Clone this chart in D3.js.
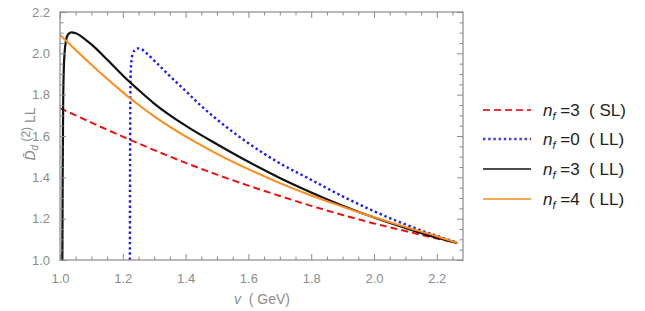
<!DOCTYPE html>
<html>
<head>
<meta charset="utf-8">
<script src="https://cdn.jsdelivr.net/npm/d3@7"></script>
<style>
  html, body { margin: 0; padding: 0; background: #fff; }
  svg { display: block; font-family: "Liberation Sans", Arial, sans-serif; }
</style>
</head>
<body>
<svg id="chart" width="645" height="311"></svg>
<script>
// ---- data ----
const xMajorTicks = [1.0, 1.2, 1.4, 1.6, 1.8, 2.0, 2.2];
const yMajorTicks = [1.0, 1.2, 1.4, 1.6, 1.8, 2.0, 2.2];
const xMinorTicks = [1.05,1.1,1.15,1.25,1.3,1.35,1.45,1.5,1.55,1.65,1.7,1.75,1.85,1.9,1.95,2.05,2.1,2.15,2.25];
const yMinorTicks = [1.05,1.1,1.15,1.25,1.3,1.35,1.45,1.5,1.55,1.65,1.7,1.75,1.85,1.9,1.95,2.05,2.1,2.15];

const vSL3 = [1.0,1.1,1.2,1.3,1.4,1.5,1.6,1.7,1.8,1.9,2.0,2.1,2.2,2.265];
const dSL3 = [1.735,1.665,1.597,1.532,1.470,1.413,1.360,1.310,1.262,1.218,1.177,1.140,1.104,1.082];

const vLL0 = [1.2225,1.2232,1.224,1.2255,1.228,1.232,1.238,1.249,1.262,1.276,1.3,1.35,1.4,1.45,1.5,1.6,1.7,1.8,1.9,2.0,2.1,2.2,2.265];
const dLL0 = [1.0,1.5,1.8,1.92,1.97,2.0,2.015,2.024,2.018,2.0,1.965,1.89,1.818,1.745,1.68,1.565,1.468,1.388,1.308,1.236,1.172,1.117,1.084];

const vLL3 = [1.0075,1.0085,1.010,1.012,1.015,1.019,1.025,1.036,1.05,1.08,1.1,1.15,1.2,1.25,1.3,1.4,1.5,1.6,1.7,1.8,1.9,2.0,2.1,2.2,2.265];
const dLL3 = [1.0,1.4,1.75,1.92,2.01,2.06,2.09,2.101,2.097,2.068,2.043,1.97,1.893,1.823,1.757,1.65,1.56,1.475,1.397,1.327,1.263,1.206,1.155,1.108,1.082];

const vLL4 = [1.0,1.05,1.1,1.15,1.2,1.25,1.3,1.4,1.5,1.6,1.7,1.8,1.9,2.0,2.1,2.2,2.265];
const dLL4 = [2.089,2.016,1.945,1.877,1.811,1.751,1.695,1.598,1.514,1.44,1.372,1.312,1.258,1.207,1.16,1.115,1.083];

const seriesNF = ["3", "0", "3", "4"];
const seriesOrder = ["SL", "LL", "LL", "LL"];

// ---- layout ----
const L = 60, R = 463, T = 12, B = 260;
const svg = d3.select("#chart");
const x = d3.scaleLinear().domain([1.0, 2.2834]).range([L, R]);
const y = d3.scaleLinear().domain([1.0, 2.2]).range([B, T]);

const frameColor = "#8a8a8a";
const labelColor = "#8c8c8c";

svg.append("defs").append("clipPath").attr("id", "clip")
  .append("rect").attr("x", L).attr("y", T).attr("width", R - L).attr("height", B - T);

// ---- curves ----
const series = [
  {v: vSL3, d: dSL3, color: "#ee1111", width: 2, dash: "7,4"},
  {v: vLL0, d: dLL0, color: "#1a1aff", width: 2.4, dash: "2.4,2.8"},
  {v: vLL3, d: dLL3, color: "#111111", width: 2.2, dash: null},
  {v: vLL4, d: dLL4, color: "#ff8c1a", width: 2, dash: null}
];
const line = d3.line().x(p => x(p[0])).y(p => y(p[1])).curve(d3.curveMonotoneX);
const g = svg.append("g").attr("clip-path", "url(#clip)");
series.forEach(s => {
  const pts = s.v.map((v, i) => [v, s.d[i]]);
  g.append("path").datum(pts)
    .attr("d", line)
    .attr("fill", "none")
    .attr("stroke", s.color)
    .attr("stroke-width", s.width)
    .attr("stroke-dasharray", s.dash);
});

// ---- frame & ticks ----
function styleAxis(sel) {
  sel.select(".domain").remove();
  sel.selectAll(".tick line").attr("stroke", frameColor).attr("stroke-width", 1);
  sel.selectAll(".tick text").attr("fill", labelColor).attr("font-size", 13)
     .attr("font-family", "Liberation Sans, Arial, sans-serif");
}
const fmt = d3.format(".1f");
// bottom
svg.append("g").attr("transform", `translate(0,${B})`)
  .call(d3.axisBottom(x).tickValues(xMajorTicks).tickSize(-6).tickPadding(14).tickFormat(fmt)).call(styleAxis);
svg.append("g").attr("transform", `translate(0,${B})`)
  .call(d3.axisBottom(x).tickValues(xMinorTicks).tickSize(-3.5).tickFormat("")).call(styleAxis);
// top
svg.append("g").attr("transform", `translate(0,${T})`)
  .call(d3.axisTop(x).tickValues(xMajorTicks).tickSize(-6).tickFormat("")).call(styleAxis);
svg.append("g").attr("transform", `translate(0,${T})`)
  .call(d3.axisTop(x).tickValues(xMinorTicks).tickSize(-3.5).tickFormat("")).call(styleAxis);
// left
svg.append("g").attr("transform", `translate(${L},0)`)
  .call(d3.axisLeft(y).tickValues(yMajorTicks).tickSize(-6).tickPadding(10).tickFormat(fmt)).call(styleAxis);
svg.append("g").attr("transform", `translate(${L},0)`)
  .call(d3.axisLeft(y).tickValues(yMinorTicks).tickSize(-3.5).tickFormat("")).call(styleAxis);
// right
svg.append("g").attr("transform", `translate(${R},0)`)
  .call(d3.axisRight(y).tickValues(yMajorTicks).tickSize(-6).tickFormat("")).call(styleAxis);
svg.append("g").attr("transform", `translate(${R},0)`)
  .call(d3.axisRight(y).tickValues(yMinorTicks).tickSize(-3.5).tickFormat("")).call(styleAxis);

svg.append("rect").attr("x", L).attr("y", T).attr("width", R - L).attr("height", B - T)
  .attr("fill", "none").attr("stroke", frameColor).attr("stroke-width", 1.2);

// ---- axis labels ----
const xl = svg.append("text").attr("x", 262).attr("y", 304).attr("text-anchor", "middle")
  .attr("fill", labelColor).attr("font-size", 14);
xl.append("tspan").attr("font-style", "italic").text("v");
xl.append("tspan").text("\u00a0\u00a0(\u00a0GeV)");

const yl = svg.append("text").attr("transform", "translate(35,134) rotate(-90)")
  .attr("text-anchor", "middle").attr("fill", labelColor).attr("font-size", 14);
yl.append("tspan").attr("font-style", "italic").text("D\u0304");
yl.append("tspan").attr("font-style", "italic").attr("font-size", 10).attr("dy", 3).text("d");
yl.append("tspan").attr("font-size", 12).attr("dy", -8).text("\u00a0(2)");
yl.append("tspan").attr("dy", 5).text("\u00a0LL");

// ---- legend ----
const legY = [110, 139, 169, 199];
const lg = svg.append("g");
series.forEach((s, i) => {
  lg.append("line").attr("x1", 483).attr("x2", 531).attr("y1", legY[i]).attr("y2", legY[i])
    .attr("stroke", s.color).attr("stroke-width", s.width).attr("stroke-dasharray", s.dash)
    .attr("opacity", i >= 2 ? 0.75 : 0.85);
  const t = lg.append("text").attr("x", 543).attr("y", legY[i] + 6).attr("font-size", 17).attr("fill", "#222");
  t.append("tspan").attr("font-style", "italic").text("n");
  t.append("tspan").attr("font-style", "italic").attr("font-size", 11).attr("dy", 4).text("f");
  t.append("tspan").attr("dy", -4).text("\u00a0=" + seriesNF[i] + "\u00a0\u00a0(\u00a0" + seriesOrder[i] + ")");
});
</script>
</body>
</html>
